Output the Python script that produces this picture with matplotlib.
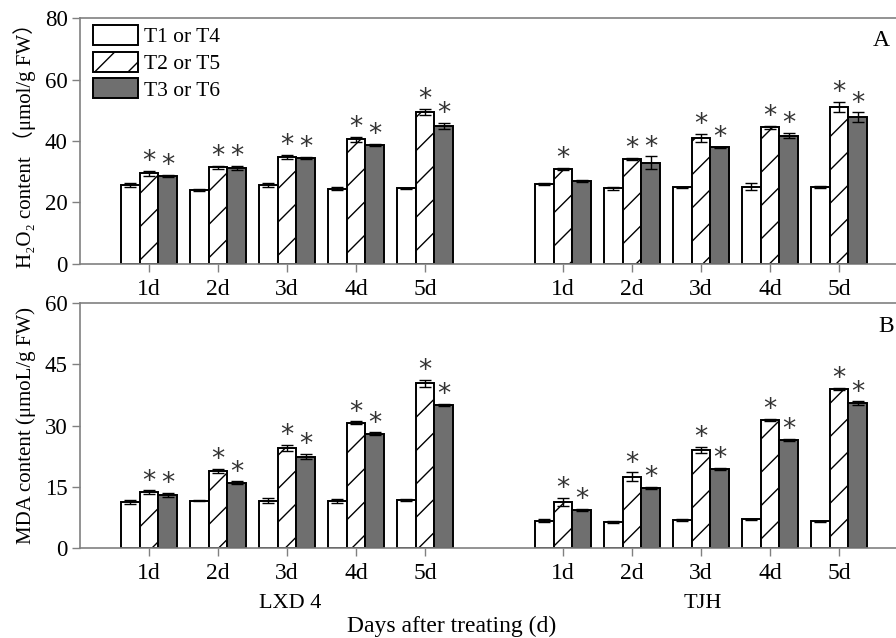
import numpy as np
import matplotlib
matplotlib.use("Agg")
import matplotlib.pyplot as plt
from matplotlib.patches import Patch

plt.rcParams['font.family'] = ['Liberation Serif', 'Noto Sans CJK SC', 'DejaVu Serif']
plt.rcParams['hatch.color'] = '#555555'
plt.rcParams['hatch.linewidth'] = 1.0

# ---------------- data ----------------
days = ["1d", "2d", "3d", "4d", "5d"]
cultivars = ["LXD 4", "TJH"]
treatments = ["T1 or T4", "T2 or T5", "T3 or T6"]

# H2O2 content (panel A)
h2o2_lxd_t1 = [25.7, 24.1, 25.6, 24.5, 24.6]
h2o2_lxd_t2 = [29.5, 31.4, 34.9, 40.5, 49.5]
h2o2_lxd_t3 = [28.6, 31.3, 34.5, 38.7, 44.9]
h2o2_tjh_t1 = [25.9, 24.7, 25.0, 25.2, 25.0]
h2o2_tjh_t2 = [30.9, 34.2, 41.0, 44.5, 51.0]
h2o2_tjh_t3 = [26.9, 33.0, 37.9, 41.7, 47.7]
h2o2_lxd_err = [[0.8, 0.2, 0.7, 0.5, 0.2], [0.8, 0.6, 0.6, 0.8, 0.9], [0.3, 0.6, 0.4, 0.4, 1.0]]
h2o2_tjh_err = [[0.3, 0.5, 0.2, 1.1, 0.3], [0.4, 0.3, 1.2, 0.5, 1.6], [0.3, 2.0, 0.3, 0.8, 1.6]]
h2o2_lxd_sig = [[0, 0, 0, 0, 0], [1, 1, 1, 1, 1], [1, 1, 1, 1, 1]]
h2o2_tjh_sig = [[0, 0, 0, 0, 0], [1, 1, 1, 1, 1], [0, 1, 1, 1, 1]]

# MDA content (panel B)
mda_lxd_t1 = [11.2, 11.6, 11.6, 11.4, 11.7]
mda_lxd_t2 = [13.7, 18.8, 24.5, 30.7, 40.3]
mda_lxd_t3 = [13.0, 16.0, 22.4, 28.0, 35.0]
mda_tjh_t1 = [6.7, 6.4, 6.9, 7.0, 6.5]
mda_tjh_t2 = [11.2, 17.4, 24.0, 31.4, 39.0]
mda_tjh_t3 = [9.3, 14.7, 19.3, 26.5, 35.4]
mda_lxd_err = [[0.5, 0.2, 0.7, 0.5, 0.3], [0.4, 0.5, 0.8, 0.3, 0.9], [0.5, 0.3, 0.6, 0.3, 0.3]]
mda_tjh_err = [[0.3, 0.2, 0.2, 0.2, 0.2], [1.0, 1.1, 0.8, 0.3, 0.3], [0.3, 0.3, 0.3, 0.3, 0.5]]
mda_lxd_sig = [[0, 0, 0, 0, 0], [1, 1, 1, 1, 1], [1, 1, 1, 1, 1]]
mda_tjh_sig = [[0, 0, 0, 0, 0], [1, 1, 1, 1, 1], [1, 1, 1, 1, 1]]

# ---------------- style ----------------
spine_col = '#808080'
fills = ['white', 'white', '#6f6f6f']
hatches = [None, '/', None]
bw = 0.27

W, H = 896, 638
fig = plt.figure(figsize=(W / 100, H / 100), dpi=100)

def fx(px):
    return px / W

def fy(py):
    return 1 - py / H

axA = fig.add_axes([fx(80), fy(264), fx(908) - fx(80), fy(18) - fy(264)])
axB = fig.add_axes([fx(80), fy(548), fx(908) - fx(80), fy(303) - fy(548)])

panels = [
    (axA, [h2o2_lxd_t1, h2o2_lxd_t2, h2o2_lxd_t3], [h2o2_tjh_t1, h2o2_tjh_t2, h2o2_tjh_t3],
     [h2o2_lxd_err, h2o2_tjh_err], [h2o2_lxd_sig, h2o2_tjh_sig], 80, [0, 20, 40, 60, 80],
     "H\u2082O\u2082 content \uff08\u03bcmol/g FW\uff09", "A", (fx(873), fy(41))),
    (axB, [mda_lxd_t1, mda_lxd_t2, mda_lxd_t3], [mda_tjh_t1, mda_tjh_t2, mda_tjh_t3],
     [mda_lxd_err, mda_tjh_err], [mda_lxd_sig, mda_tjh_sig], 60, [0, 15, 30, 45, 60],
     "MDA content (\u03bcmoL/g FW)", "B", (fx(878), fy(327))),
]

group_x = [np.arange(1, 6), np.arange(7, 12)]

for ax, lxd, tjh, errs, sigs, ymax, yt, ylab, plab, ppos in panels:
    for gi, series in enumerate([lxd, tjh]):
        xs = group_x[gi]
        for ti in range(3):
            x = xs + (ti - 1) * bw
            vals = np.array(series[ti])
            err = np.array(errs[gi][ti])
            ax.bar(x, vals, width=bw, color=fills[ti], edgecolor='black', linewidth=1.4,
                   hatch=hatches[ti], zorder=2)
            ax.errorbar(x, vals, yerr=err, fmt='none', ecolor='black', elinewidth=1.0,
                        capsize=4, capthick=1.0, zorder=3)
            for xi, v, e, s in zip(x, vals, err, sigs[gi][ti]):
                if s:
                    ax.annotate('*', (xi, v + e), xytext=(0, -3), textcoords='offset points',
                                ha='center', va='bottom', fontsize=19, color='#333333',
                                family='DejaVu Sans', zorder=4)
    ax.set_xlim(0, 12)
    ax.set_ylim(0, ymax)
    ax.set_yticks(yt)
    ax.set_xticks(list(group_x[0]) + list(group_x[1]))
    ax.set_xticklabels(days + days)
    ax.tick_params(axis='y', labelsize=16.5, color=spine_col, length=6, width=1.0,
                   direction='out', pad=3)
    ax.tick_params(axis='x', labelsize=17, color=spine_col, length=6, width=1.0,
                   direction='out', pad=5)
    for sp in ['left', 'bottom', 'top']:
        ax.spines[sp].set_color(spine_col)
        ax.spines[sp].set_linewidth(1.2)
    ax.spines['right'].set_visible(False)
    ax.set_ylabel(ylab, fontsize=15, labelpad=6)
    fig.text(ppos[0], ppos[1], plab, fontsize=17, va='center')

handles = [Patch(facecolor=fills[i], edgecolor='black', linewidth=1.4, hatch=hatches[i],
                 label=treatments[i]) for i in range(3)]
axA.legend(handles=handles, loc='upper left', bbox_to_anchor=(fx(93), fy(25)),
           bbox_transform=fig.transFigure, frameon=False, fontsize=15.5,
           handlelength=2.1, handleheight=1.05, handletextpad=0.25, labelspacing=0.2,
           borderaxespad=0, borderpad=0)

fig.text(fx(290), fy(604), cultivars[0], ha='center', va='center', fontsize=16)
fig.text(fx(703), fy(604), cultivars[1], ha='center', va='center', fontsize=16)
fig.text(fx(452), fy(626), "Days after treating (d)", ha='center', va='center', fontsize=17)

fig.savefig("out.png", dpi=100)
